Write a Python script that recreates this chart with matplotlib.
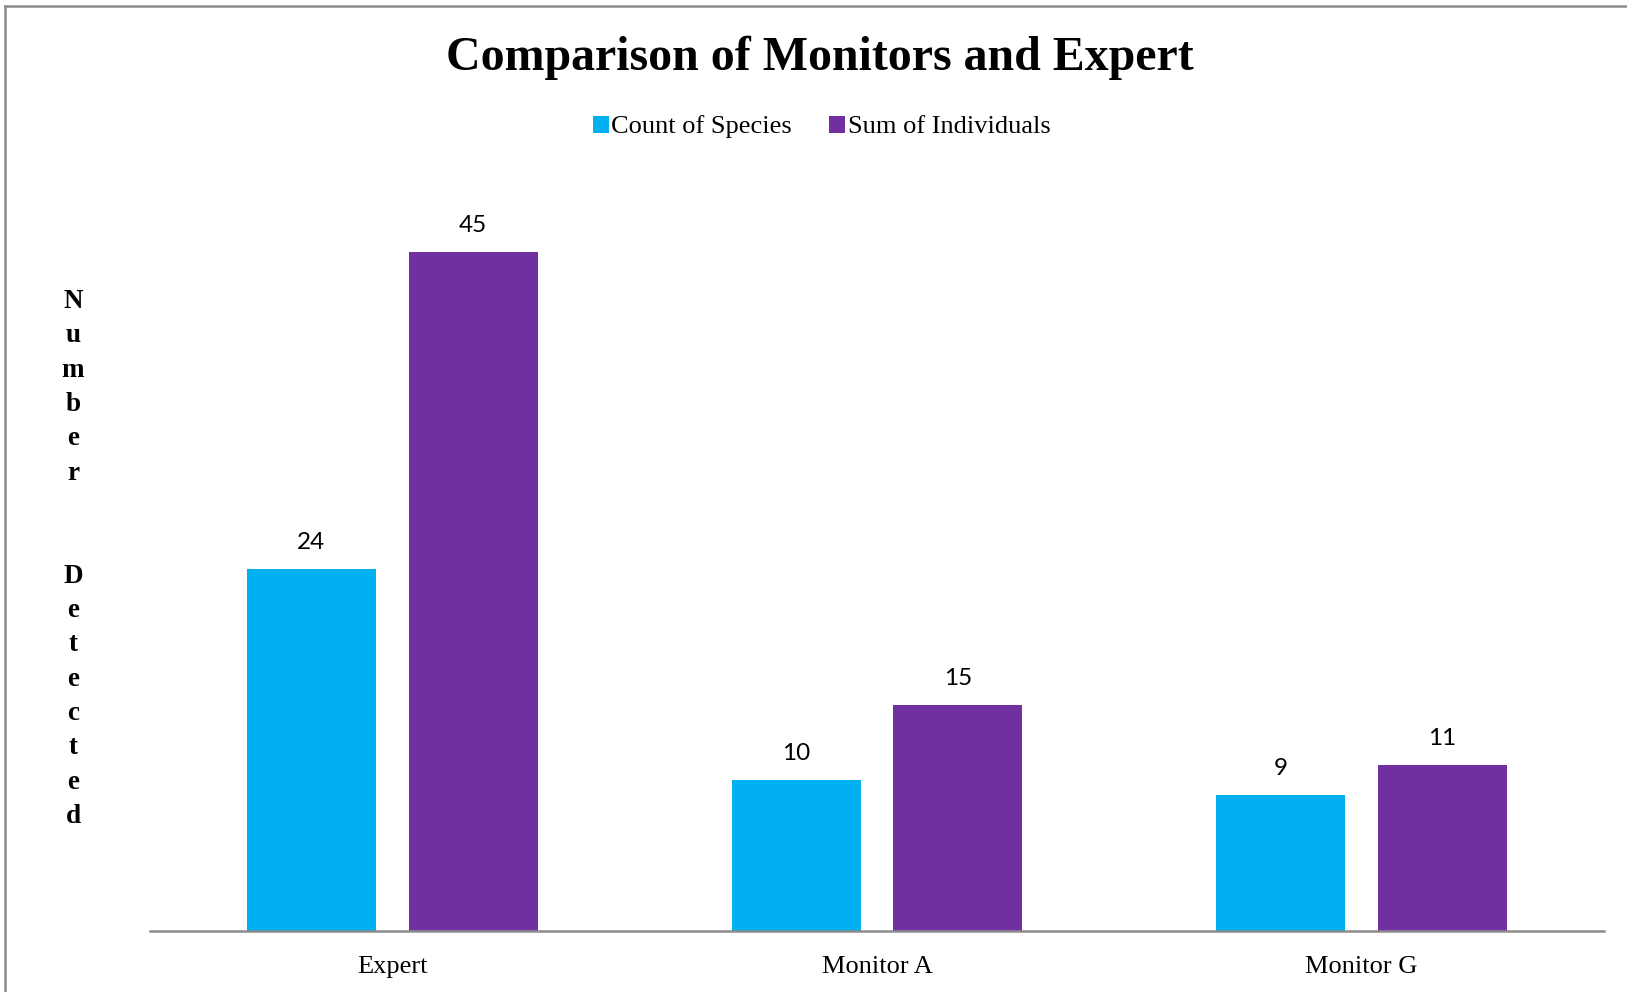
import matplotlib.pyplot as plt
from matplotlib.lines import Line2D
import numpy as np

# chart data
groups = ["Expert", "Monitor A", "Monitor G"]
species_count = [24, 10, 9]
individuals_sum = [45, 15, 11]

cyan = "#00B0F0"
purple = "#7030A0"
serif = "Liberation Serif"

fig = plt.figure(figsize=(16.27, 9.92), dpi=100)
ax = fig.add_axes([150 / 1627, 1 - 931 / 992, 1454 / 1627, 755 / 992])

x = np.arange(len(groups))
w = 0.266
b1 = ax.bar(x - 0.167, species_count, w, color=cyan, label="Count of Species")
b2 = ax.bar(x + 0.167, individuals_sum, w, color=purple, label="Sum of Individuals")

# value labels above bars
for bars in (b1, b2):
    for r in bars:
        ax.annotate(f"{r.get_height():g}", (r.get_x() + r.get_width() / 2, r.get_height()),
                    xytext=(0, 19), textcoords="offset points", ha="center", va="center",
                    fontsize=17.5, family="Lato", color="black")

ax.set_xlim(-0.5, 2.5)
ax.set_ylim(0, 50)
ax.set_xticks(x)
ax.set_xticklabels(groups, family=serif, fontsize=19)
ax.tick_params(axis="x", length=0, pad=18)
ax.set_yticks([])
for s in ("top", "right", "left"):
    ax.spines[s].set_visible(False)
ax.spines["bottom"].set_color("#8c8c8c")
ax.spines["bottom"].set_linewidth(1.8)

fig.text(0.504, 1 - 58 / 992, "Comparison of Monitors and Expert", ha="center", va="center",
         family=serif, fontweight="bold", fontsize=34.5)

fig.legend(handles=[b1, b2], loc="center", bbox_to_anchor=(0.505, 1 - 127 / 992), ncol=2,
           frameon=False, prop={"family": serif, "size": 19}, handlelength=0.6,
           handleheight=0.6, handletextpad=0.1, columnspacing=1.4)

# stacked vertical y label
ylab = "\n".join(list("Number")) + "\n\n\n" + "\n".join(list("Detected"))
fig.text(73 / 1627, 1 - 559 / 992, ylab, ha="center", va="center", family=serif,
         fontweight="bold", fontsize=19.5, linespacing=1.49)

# gray frame at left/top edges
fig.add_artist(Line2D([5 / 1627, 5 / 1627], [0, 1 - 6 / 992], color="#8c8c8c", lw=1.8,
                      transform=fig.transFigure))
fig.add_artist(Line2D([5 / 1627, 1], [1 - 6 / 992, 1 - 6 / 992], color="#8c8c8c", lw=1.8,
                      transform=fig.transFigure))

fig.savefig("out.png", dpi=100)
